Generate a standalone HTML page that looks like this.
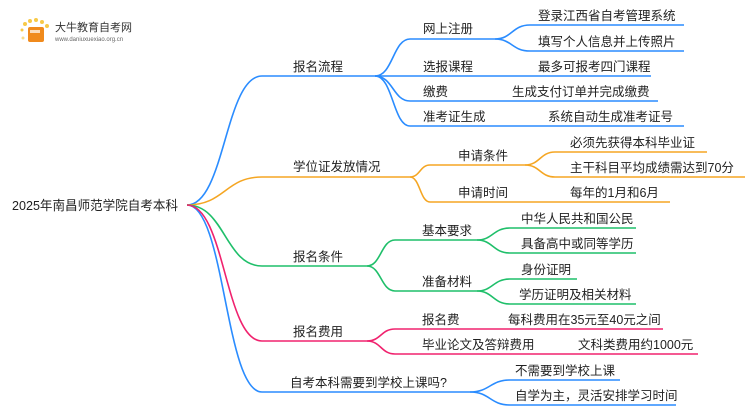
<!DOCTYPE html>
<html><head><meta charset="utf-8"><style>
body{margin:0;background:#fff;width:750px;height:410px;overflow:hidden}
text{font-family:"Liberation Sans","Noto Sans CJK SC",sans-serif;fill:#222}
</style></head><body>
<svg width="750" height="410" viewBox="0 0 750 410" xmlns="http://www.w3.org/2000/svg" fill="none" stroke-width="1.6">
<!-- logo -->
<g stroke="none">
<circle cx="25" cy="24" r="2" fill="#f7c948"/><circle cx="30" cy="21" r="2" fill="#f7c948"/><circle cx="36" cy="20" r="2" fill="#f7c948"/><circle cx="42" cy="22" r="2" fill="#f7c948"/><circle cx="47" cy="26" r="2" fill="#f7c948"/><circle cx="22" cy="30" r="1.5" fill="#f7c948"/><circle cx="23" cy="38" r="1.5" fill="#f9dc8a"/>
<rect x="28" y="27" width="16" height="15" rx="2" fill="#f08a1c"/><rect x="30" y="30" width="10" height="3" fill="#fff" opacity=".7"/>
</g>
<text x="55" y="31" font-size="11" style="fill:#333">大牛教育自考网</text>
<text x="55" y="41" font-size="6" style="fill:#666">www.daniuxuexiao.org.cn</text>

<text x="12" y="210" font-size="13" textLength="166" lengthAdjust="spacingAndGlyphs">2025年南昌师范学院自考本科</text>

<g stroke="#2a8cff">
<path d="M187 205 C225 205 225 76 262 76 H375"/>
<path d="M375 76 C393 76 393 39 410 39 H495"/>
<path d="M495 39 C512 39 512 25 530 25 H684"/>
<path d="M495 39 C512 39 512 51 530 51 H684"/>
<path d="M375 76 H651"/>
<path d="M375 76 C393 76 393 101 410 101 H658"/>
<path d="M375 76 C393 76 393 126 410 126 H684"/>
<path d="M187 205 C225 205 225 392 262 392 H470"/>
<path d="M470 392 C490 392 490 380 510 380 H620"/>
<path d="M470 392 C490 392 490 405 510 405 H676"/>
</g>
<g stroke="#f5a623">
<path d="M187 205 C225 205 225 177 262 177 H410"/>
<path d="M410 177 C420 177 420 165 430 165 H525"/>
<path d="M525 165 C540 165 540 152 555 152 H707"/>
<path d="M525 165 C540 165 540 177 555 177 H745"/>
<path d="M410 177 C420 177 420 202 430 202 H670"/>
</g>
<g stroke="#1fbf6a">
<path d="M187 205 C225 205 225 266 262 266 H367"/>
<path d="M367 266 C381 266 381 240 395 240 H477"/>
<path d="M477 240 C493 240 493 228 510 228 H636"/>
<path d="M477 240 C493 240 493 253 510 253 H636"/>
<path d="M367 266 C381 266 381 291 395 291 H477"/>
<path d="M477 291 C493 291 493 279 510 279 H577"/>
<path d="M477 291 C493 291 493 304 510 304 H636"/>
</g>
<g stroke="#f0226e">
<path d="M187 205 C225 205 225 341 262 341 H367"/>
<path d="M367 341 C381 341 381 329 395 329 H663"/>
<path d="M367 341 C381 341 381 354 395 354 H698"/>
</g>

<g font-size="12.5">
<text x="293" y="71">报名流程</text>
<text x="293" y="171">学位证发放情况</text>
<text x="293" y="261">报名条件</text>
<text x="293" y="336">报名费用</text>
<text x="290" y="387">自考本科需要到学校上课吗?</text>

<text x="423" y="33">网上注册</text>
<text x="423" y="71">选报课程</text>
<text x="423" y="96">缴费</text>
<text x="423" y="121">准考证生成</text>
<text x="538" y="20">登录江西省自考管理系统</text>
<text x="538" y="46">填写个人信息并上传照片</text>
<text x="538" y="71">最多可报考四门课程</text>
<text x="512" y="96">生成支付订单并完成缴费</text>
<text x="548" y="121">系统自动生成准考证号</text>

<text x="458" y="160">申请条件</text>
<text x="458" y="197">申请时间</text>
<text x="570" y="147">必须先获得本科毕业证</text>
<text x="570" y="172">主干科目平均成绩需达到70分</text>
<text x="570" y="197">每年的1月和6月</text>

<text x="422" y="235">基本要求</text>
<text x="422" y="286">准备材料</text>
<text x="521" y="223">中华人民共和国公民</text>
<text x="521" y="248">具备高中或同等学历</text>
<text x="521" y="274">身份证明</text>
<text x="519" y="299">学历证明及相关材料</text>

<text x="422" y="324">报名费</text>
<text x="422" y="349">毕业论文及答辩费用</text>
<text x="508" y="324">每科费用在35元至40元之间</text>
<text x="578" y="349">文科类费用约1000元</text>

<text x="515" y="375">不需要到学校上课</text>
<text x="515" y="400">自学为主，灵活安排学习时间</text>
</g>
</svg>
</body></html>
